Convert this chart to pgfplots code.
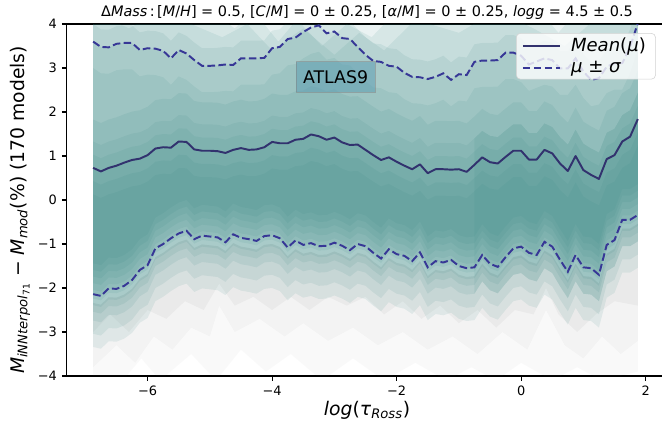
\documentclass[border=0pt]{standalone}
\usepackage{fontspec}
\setmainfont{DejaVu Sans}
\usepackage{pgfplots}
\pgfplotsset{compat=1.18}
\usepackage{pgfplotstable}
\usepgfplotslibrary{fillbetween}

\definecolor{tealc}{RGB}{48,130,126}
\definecolor{greyc}{RGB}{120,120,120}
\definecolor{meanc}{RGB}{50,50,110}
\definecolor{sigc}{RGB}{55,55,150}
\definecolor{boxc}{RGB}{95,158,180}

\pgfplotstableread{
x mean up lo
-6.875 0.73 3.60 -2.14
-6.750 0.65 3.48 -2.18
-6.625 0.73 3.47 -2.01
-6.500 0.78 3.55 -2.02
-6.375 0.85 3.57 -1.95
-6.250 0.91 3.57 -1.82
-6.125 0.94 3.41 -1.59
-6.000 1.02 3.45 -1.48
-5.875 1.17 3.44 -1.10
-5.750 1.20 3.39 -1.00
-5.625 1.19 3.22 -0.87
-5.500 1.33 3.41 -0.76
-5.375 1.32 3.33 -0.70
-5.250 1.15 3.18 -0.89
-5.125 1.12 3.05 -0.81
-5.000 1.12 3.05 -0.83
-4.875 1.11 3.06 -0.85
-4.750 1.07 3.08 -0.96
-4.625 1.14 3.07 -0.78
-4.500 1.18 3.22 -0.86
-4.375 1.14 3.22 -0.89
-4.250 1.15 3.22 -0.93
-4.125 1.20 3.23 -0.82
-4.000 1.32 3.45 -0.80
-3.875 1.29 3.48 -0.87
-3.750 1.29 3.66 -1.08
-3.625 1.37 3.69 -0.92
-3.500 1.39 3.82 -1.02
-3.375 1.49 3.92 -0.98
-3.250 1.45 3.97 -1.05
-3.125 1.37 3.79 -1.04
-3.000 1.42 3.83 -0.97
-2.875 1.31 3.68 -1.04
-2.750 1.25 3.66 -1.14
-2.625 1.26 3.48 -1.00
-2.500 1.14 3.30 -1.05
-2.375 1.02 3.16 -1.20
-2.250 0.91 3.14 -1.33
-2.125 0.97 3.05 -1.12
-2.000 0.87 3.03 -1.23
-1.875 0.78 2.89 -1.27
-1.750 0.70 2.80 -1.39
-1.625 0.81 2.79 -1.19
-1.500 0.61 2.75 -1.53
-1.375 0.70 2.80 -1.39
-1.250 0.70 2.88 -1.42
-1.125 0.69 2.73 -1.36
-1.000 0.70 2.86 -1.50
-0.875 0.64 2.84 -1.55
-0.750 0.80 3.14 -1.53
-0.625 0.97 3.17 -1.25
-0.500 0.86 3.17 -1.45
-0.375 0.83 3.18 -1.52
-0.250 0.98 3.35 -1.30
-0.125 1.12 3.35 -1.10
0.000 1.12 3.28 -1.06
0.125 0.92 3.08 -1.20
0.250 0.92 3.15 -1.25
0.375 1.14 3.22 -0.95
0.500 1.06 3.18 -1.06
0.625 0.83 2.99 -1.36
0.750 0.66 2.99 -1.63
0.875 1.00 3.22 -1.25
1.000 0.68 2.92 -1.53
1.125 0.57 2.73 -1.55
1.250 0.48 2.77 -1.70
1.375 0.93 3.03 -1.02
1.500 1.02 3.11 -0.91
1.625 1.33 3.11 -0.45
1.750 1.44 3.48 -0.45
1.875 1.84 4.02 -0.34
}\stats

\pgfplotsset{
  bnd/.style={draw=none, forget plot},
  lay/.style={tealc, fill opacity=0.1, forget plot},
}

\begin{document}
\begin{tikzpicture}
\begin{axis}[name=ax, scale only axis, width=432.5pt, height=253.4pt,
  xmin=-7.30, xmax=2.35, ymin=-4, ymax=4,
  axis line style={line width=0.8pt},
  tick align=outside, xtick pos=left, ytick pos=left,
  major tick length=3.5pt, tick style={line width=0.8pt, black},
  xtick={-6,-4,-2,0,2}, xticklabels={−6,−4,−2,0,2},
  ytick={-4,-3,-2,-1,0,1,2,3,4}, yticklabels={−4,−3,−2,−1,0,1,2,3,4},
  tick label style={font=\fontsize{9.3}{11}\selectfont},
  every axis title shift=0pt,
  title={Δ\textit{Mass}\,:\,[\textit{M}/\textit{H}] = 0.5, [\textit{C}/\textit{M}] = 0 ± 0.25, [\textit{α}/\textit{M}] = 0 ± 0.25, \textit{logg} = 4.5 ± 0.5},
  title style={at={(0.5,1.02)}, anchor=base, font=\fontsize{10.4}{12}\selectfont},
  xlabel={\textit{log}(\textit{τ}\textsubscript{\textit{Ross}})},
  xlabel style={at={(0.5,-0.0966)}, anchor=center, font=\fontsize{13.5}{16}\selectfont},
  ylabel={\textit{M}\textsubscript{\textit{iNNterpol}\textsubscript{71}} − \textit{M}\textsubscript{\textit{mod}}(\%) (170 models)},
  ylabel style={at={(-0.0777,0.4716)}, anchor=center, rotate=0, font=\fontsize{13.5}{16}\selectfont},
  legend style={at={(0.9807,0.9744)}, anchor=north east, font=\fontsize{13}{15}\selectfont,
    draw=gray!35, rounded corners=3pt, fill=white, fill opacity=0.8, draw opacity=1, text opacity=1,
    inner xsep=4pt, inner ysep=2pt, row sep=2pt, nodes={inner xsep=3pt, inner ysep=1.5pt}},
  legend cell align=left,
  legend image code/.code={\draw[#1] (0pt,0pt) -- (27pt,0pt); \path (31pt,0pt);},
]
% boundaries
\addplot[bnd, name path=top] coordinates {(-6.875,4.3) (1.875,4.3)};
\addplot[bnd, name path=top2] coordinates {(-6.875,4.3) (-5.0,4.3) (-4.6,3.9) (-4.3,4.3) (-3.9,3.6) (-3.6,4.1) (-3.2,3.5) (-2.8,4.0) (-2.4,3.7) (-2.0,4.3) (0.3,4.3) (0.6,3.8) (0.9,4.3) (1.875,4.3)};
\addplot[bnd, name path=top3] coordinates {(-6.875,4.3) (-6.3,3.9) (-5.8,4.3) (-4.8,3.7) (-4.4,4.0) (-4.0,3.4) (-3.5,3.9) (-3.0,3.3) (-2.6,3.8) (-2.2,3.4) (-1.7,4.1) (-1.0,3.8) (-0.4,4.3) (0.2,3.9) (0.7,3.5) (1.1,4.0) (1.875,4.3)};
\addplot[bnd, name path=gtop] table[x=x, y expr=\thisrow{lo}-0.2] {\stats};
\addplot[bnd, name path=g1] coordinates {(-6.875,-4.1) (-6.4,-4.1) (-6.1,-3.6) (-5.8,-4.1) (-5.3,-3.5) (-4.9,-4.1) (-4.5,-3.4) (-4.1,-3.9) (-3.7,-3.5) (-3.2,-4.1) (-2.7,-3.6) (-2.2,-4.1) (-1.7,-3.7) (-1.2,-4.1) (-0.8,-3.8) (-0.4,-4.1) (0.0,-3.7) (0.5,-4.1) (0.9,-3.8) (1.3,-4.1) (1.875,-3.9)};
\addplot[bnd, name path=g2] coordinates {(-6.875,-3.8) (-6.5,-3.3) (-6.2,-3.7) (-5.9,-3.1) (-5.6,-3.4) (-5.3,-2.9) (-5.0,-3.1) (-4.85,-2.4) (-4.6,-3.0) (-4.2,-2.7) (-3.8,-3.1) (-3.5,-2.8) (-3.1,-3.2) (-2.7,-2.9) (-2.3,-3.3) (-1.9,-3.0) (-1.5,-3.4) (-1.1,-3.1) (-0.7,-3.5) (-0.3,-3.0) (0.1,-3.4) (0.4,-2.5) (0.7,-3.3) (1.0,-3.6) (1.3,-3.1) (1.6,-3.5) (1.875,-3.2)};
\addplot[bnd, name path=g3] coordinates {(-6.875,-3.0) (-6.6,-2.6) (-6.3,-3.0) (-6.0,-2.5) (-5.7,-2.7) (-5.4,-2.3) (-5.1,-2.5) (-4.85,-1.9) (-4.6,-2.4) (-4.3,-2.2) (-4.0,-2.5) (-3.7,-2.2) (-3.4,-2.5) (-3.1,-2.2) (-2.8,-2.4) (-2.5,-2.2) (-2.2,-2.6) (-1.9,-2.3) (-1.6,-2.7) (-1.3,-2.4) (-1.0,-2.8) (-0.7,-2.5) (-0.4,-2.9) (-0.1,-2.5) (0.2,-2.6) (0.4,-2.0) (0.6,-2.6) (0.9,-3.0) (1.2,-2.6) (1.5,-2.3) (1.875,-2.4)};
\addplot[bnd, name path=b1] table[x=x, y expr=\thisrow{lo}-1.2] {\stats};
\addplot[bnd, name path=b2] table[x=x, y expr=\thisrow{lo}-0.9] {\stats};
\addplot[bnd, name path=b3] table[x=x, y expr=\thisrow{lo}-0.6] {\stats};
\addplot[bnd, name path=t4] table[x=x, y expr=\thisrow{up}+0.4] {\stats};
\addplot[bnd, name path=b4] table[x=x, y expr=\thisrow{lo}-0.4] {\stats};
\addplot[bnd, name path=t5] table[x=x, y=up] {\stats};
\addplot[bnd, name path=b5] table[x=x, y expr=\thisrow{lo}-0.25] {\stats};
\addplot[bnd, name path=t6] table[x=x, y expr=\thisrow{up}-0.6] {\stats};
\addplot[bnd, name path=b6] table[x=x, y expr=\thisrow{lo}-0.1] {\stats};
\addplot[bnd, name path=t7] table[x=x, y expr=\thisrow{mean}+1.1] {\stats};
\addplot[bnd, name path=b7] table[x=x, y=lo] {\stats};
\addplot[bnd, name path=t8] table[x=x, y expr=\thisrow{mean}+0.6] {\stats};
\addplot[bnd, name path=b8] table[x=x, y expr=\thisrow{lo}+0.1] {\stats};
\addplot[bnd, name path=t9] table[x=x, y expr=\thisrow{mean}+0.3] {\stats};
\addplot[bnd, name path=b9] table[x=x, y expr=\thisrow{lo}+0.25] {\stats};
\addplot[bnd, name path=t10] table[x=x, y=mean] {\stats};
\addplot[bnd, name path=b10] table[x=x, y expr=\thisrow{lo}+0.4] {\stats};
\addplot[bnd, name path=t11] table[x=x, y expr=\thisrow{mean}-0.3] {\stats};
\addplot[bnd, name path=b11] table[x=x, y expr=\thisrow{lo}+0.55] {\stats};
\addplot[bnd, name path=t12] table[x=x, y expr=\thisrow{mean}-0.6] {\stats};
\addplot[bnd, name path=b12] table[x=x, y expr=\thisrow{lo}+0.7] {\stats};
\addplot[bnd, name path=t13, restrict x to domain=-0.8:1.875] table[x=x, y expr=\thisrow{mean}+0.6] {\stats};
\addplot[bnd, name path=b13, restrict x to domain=-0.8:1.875] table[x=x, y expr=\thisrow{lo}-0.6] {\stats};
% grey fills
\addplot[greyc, fill opacity=0.045, forget plot] fill between[of=gtop and g1];
\addplot[greyc, fill opacity=0.05, forget plot] fill between[of=gtop and g2];
\addplot[greyc, fill opacity=0.07, forget plot] fill between[of=gtop and g3];
% teal fills
\addplot[lay] fill between[of=top and b1];
\addplot[lay] fill between[of=top2 and b2];
\addplot[lay] fill between[of=top3 and b3];
\addplot[lay] fill between[of=t4 and b4];
\addplot[lay] fill between[of=t5 and b5];
\addplot[lay] fill between[of=t6 and b6];
\addplot[lay] fill between[of=t7 and b7];
\addplot[lay] fill between[of=t8 and b8];
\addplot[lay] fill between[of=t9 and b9];
\addplot[lay] fill between[of=t10 and b10];
\addplot[lay] fill between[of=t11 and b11];
\addplot[lay] fill between[of=t12 and b12];
\addplot[lay] fill between[of=t13 and b13];
% lines
\addplot[meanc, line width=1.4pt, line join=round] table[x=x, y=mean] {\stats};
\addlegendentry{\textit{Mean}(\textit{μ})}
\addplot[sigc, line width=1.4pt, dash pattern=on 5.5pt off 2.4pt] table[x=x, y=up] {\stats};
\addlegendentry{\textit{μ} ± \textit{σ}}
\addplot[sigc, line width=1.4pt, dash pattern=on 5.5pt off 2.4pt, forget plot] table[x=x, y=lo] {\stats};
\node[fill=boxc, fill opacity=0.55, text opacity=1, draw=gray, draw opacity=0.5,
  inner xsep=5.2pt, inner ysep=6.2pt, font=\fontsize{12.5}{14}\selectfont] at (axis cs:-2.98,2.80) {ATLAS9};
\end{axis}
\pgfresetboundingbox
\path[use as bounding box] (ax.south west) ++(-48pt,-38.9pt) rectangle ++(476.6pt,309.6pt);
\end{tikzpicture}
\end{document}
